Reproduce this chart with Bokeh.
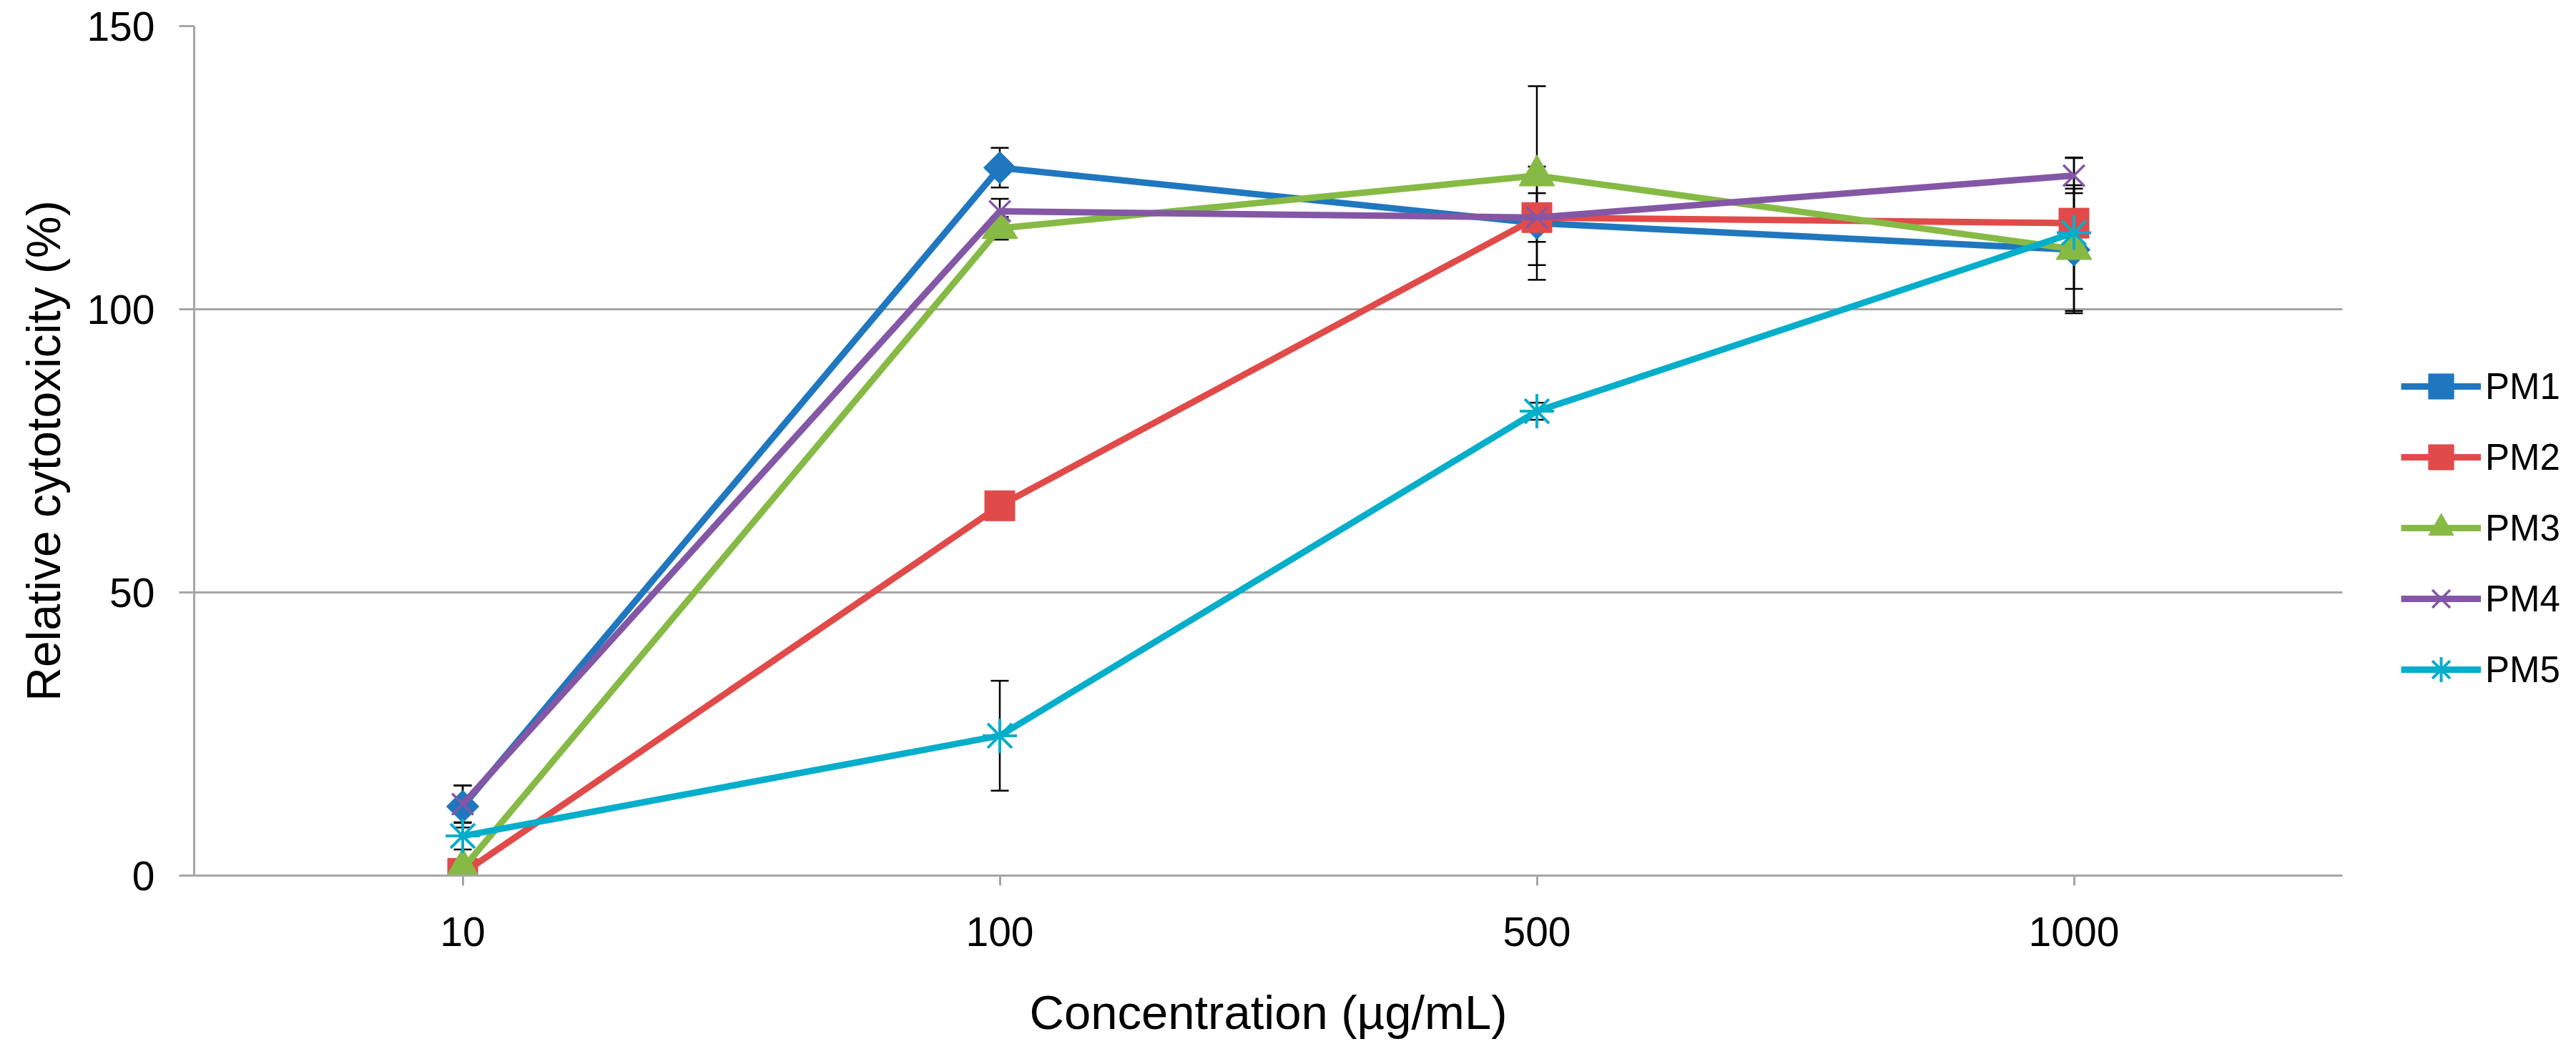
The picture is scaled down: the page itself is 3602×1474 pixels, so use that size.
import math
from bokeh.plotting import figure
from bokeh.models import (ColumnDataSource, Whisker, TeeHead, Legend, LegendItem,
                          FixedTicker, Range1d, FactorRange, Title)
from bokeh.embed import file_html
from bokeh.resources import INLINE

# concentrations (ug/mL) and relative cytotoxicity (%)
conc = ["10", "100", "500", "1000"]
names = ["PM1", "PM2", "PM3", "PM4", "PM5"]

pm1 = [12.2, 125.0, 115.2, 110.5]
pm2 = [0.4, 65.3, 116.2, 115.2]
pm3 = [1.2, 114.3, 123.6, 110.6]
pm4 = [12.6, 117.3, 116.2, 123.6]
pm5 = [7.0, 24.7, 82.0, 113.5]

# error bars (+/-)
pm1_err = [3.7, 3.5, 10.0, 10.8]
pm2_err = [1.0, 2.0, 1.5, 11.6]
pm3_err = [1.0, 2.0, 15.8, 11.3]
pm4_err = [3.3, 2.2, 4.3, 3.1]
pm5_err = [2.4, 9.7, 1.5, 1.5]

series = [pm1, pm2, pm3, pm4, pm5]
errors = [pm1_err, pm2_err, pm3_err, pm4_err, pm5_err]

colors = ["#1F77BF", "#E04B4A", "#86BA45", "#8457A6", "#05AECA"]
gray = "#A6A6A6"
font = "Liberation Sans"

p = figure(x_range=FactorRange(*conc), y_range=Range1d(0, 150),
           frame_width=3004, frame_height=1188,
           output_backend="svg", toolbar_location=None,
           min_border_left=271, min_border_right=0, min_border_top=36,
           min_border_bottom=234)

p.outline_line_color = None
p.background_fill_color = "white"
p.xgrid.grid_line_color = None
p.ygrid.grid_line_color = gray
p.ygrid.grid_line_width = 3
p.yaxis.ticker = FixedTicker(ticks=[0, 50, 100, 150])

for ax in [p.xaxis[0], p.yaxis[0]]:
    ax.axis_line_color = gray
    ax.axis_line_width = 3
    ax.major_tick_line_color = gray
    ax.major_tick_line_width = 3
    ax.major_tick_in = 0
    ax.minor_tick_line_color = None
    ax.major_label_text_font = font
    ax.major_label_text_font_size = "57px"
    ax.major_label_text_color = "black"
    ax.axis_label_text_font = font
    ax.axis_label_text_font_style = "normal"
    ax.axis_label_text_color = "black"

p.yaxis.major_tick_out = 21
p.yaxis.major_label_standoff = 34

p.xaxis.major_tick_out = 14
p.xaxis.major_label_standoff = 44
p.xaxis.axis_label = "Concentration (\u00b5g/mL)"
p.xaxis.axis_label_text_font_size = "67px"
p.xaxis.axis_label_standoff = 52

# y axis title sits a little below the middle of the frame
ytitle = Title(text="Relative cytotoxicity (%)", align="center", offset=-29,
               standoff=42, text_font=font, text_font_size="66px",
               text_font_style="normal", text_color="black")
p.add_layout(ytitle, "left")

# error bars
ex, eu, el = [], [], []
for vals, err in zip(series, errors):
    for c, v, e in zip(conc, vals, err):
        ex.append(c)
        eu.append(v + e)
        el.append(v - e)
esrc = ColumnDataSource(data=dict(x=ex, upper=eu, lower=el))
w = Whisker(base="x", upper="upper", lower="lower", source=esrc,
            line_color="black", line_width=2.5,
            upper_head=TeeHead(size=25, line_width=2.5, line_color="black"),
            lower_head=TeeHead(size=25, line_width=2.5, line_color="black"))
p.add_layout(w)

items = []

# PM1 - diamond
l1 = p.line(conc, pm1, line_color=colors[0], line_width=9)
s1 = p.scatter(conc, pm1, marker="square", angle=math.pi / 4, size=32,
               fill_color=colors[0], line_color=colors[0])
items.append(LegendItem(label=names[0], renderers=[l1, s1]))

# PM2 - square
l2 = p.line(conc, pm2, line_color=colors[1], line_width=9)
s2 = p.scatter(conc, pm2, marker="square", size=42,
               fill_color=colors[1], line_color=colors[1])
items.append(LegendItem(label=names[1], renderers=[l2, s2]))

# PM3 - triangle
l3 = p.line(conc, pm3, line_color=colors[2], line_width=9)
s3 = p.scatter(conc, pm3, marker="triangle", size=50,
               fill_color=colors[2], line_color=colors[2])
items.append(LegendItem(label=names[2], renderers=[l3, s3]))

# PM4 - x
l4 = p.line(conc, pm4, line_color=colors[3], line_width=9)
s4 = p.scatter(conc, pm4, marker="x", size=42, line_color=colors[3], line_width=3.5)
items.append(LegendItem(label=names[3], renderers=[l4, s4]))

# PM5 - star
l5 = p.line(conc, pm5, line_color=colors[4], line_width=9)
s5 = p.scatter(conc, pm5, marker="asterisk", size=48, line_color=colors[4], line_width=4)
items.append(LegendItem(label=names[4], renderers=[l5, s5]))

legend = Legend(items=items, location=(82, 244), glyph_width=112, glyph_height=88,
                label_height=88, label_standoff=6, spacing=11, padding=0, margin=0,
                border_line_color=None, background_fill_alpha=0,
                label_text_font=font, label_text_font_size="51px",
                label_text_color="black")
p.add_layout(legend, "right")

open("out.html", "w").write(file_html(p, INLINE))
